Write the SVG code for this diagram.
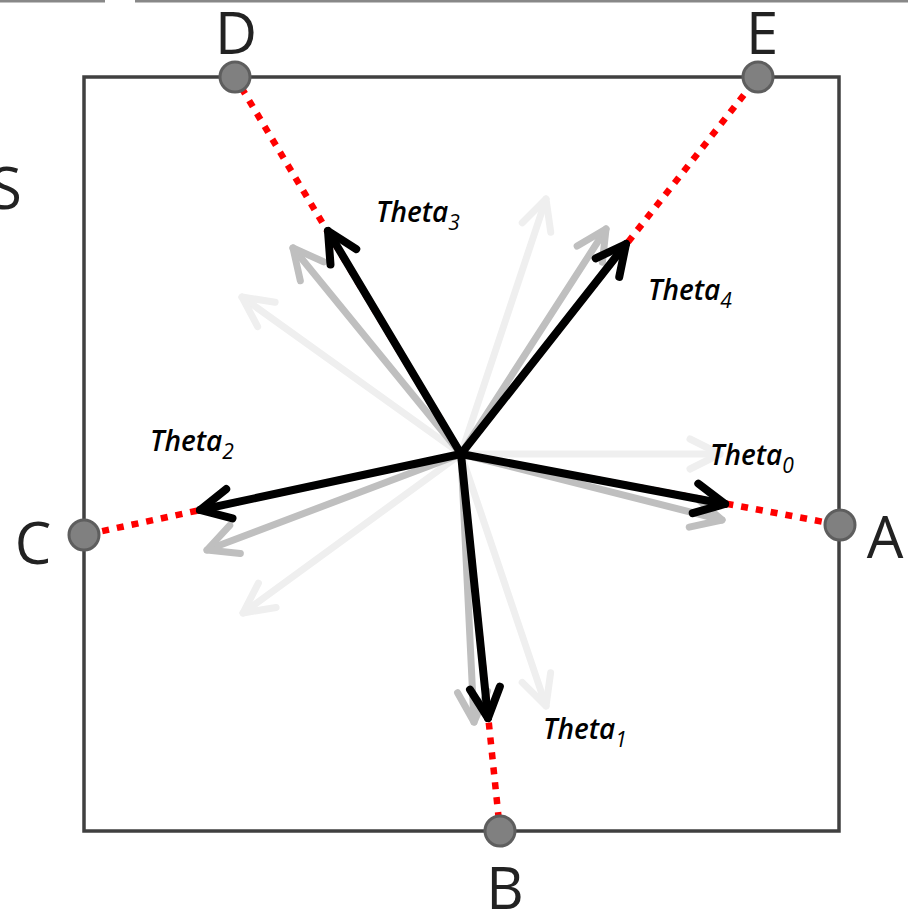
<svg xmlns="http://www.w3.org/2000/svg" width="908" height="912" viewBox="0 0 908 912">
<style>
.big{font-family:"Open Sans","Noto Sans",sans-serif;font-size:58px;fill:#222;text-anchor:middle}
.th{font-family:"Open Sans","Noto Sans",sans-serif;font-style:italic;font-weight:600;font-size:28px;fill:#000}
.sub{font-size:21px;font-weight:500}
.blk{stroke:#000;stroke-width:8;fill:none;stroke-linecap:round;marker-end:url(#mb)}
.gry{stroke:#bfbfbf;stroke-width:7;fill:none;stroke-linecap:round;marker-end:url(#mg)}
.lgt{stroke:#efefef;stroke-width:7;fill:none;stroke-linecap:round;marker-end:url(#ml)}
.red{stroke:#ff0000;stroke-width:6.5;fill:none;stroke-dasharray:7 8}
.pt{fill:#808080;stroke:#5e5e5e;stroke-width:3}
</style>
<defs>
<marker id="mb" markerUnits="userSpaceOnUse" orient="auto" refX="0" refY="0" markerWidth="80" markerHeight="80" viewBox="-40 -40 80 80" overflow="visible"><path d="M-30,-15 L0,0 L-30,15" fill="none" stroke="#000" stroke-width="8" stroke-linecap="round" stroke-linejoin="round"/></marker>
<marker id="mg" markerUnits="userSpaceOnUse" orient="auto" refX="0" refY="0" markerWidth="80" markerHeight="80" viewBox="-40 -40 80 80" overflow="visible"><path d="M-30,-15 L0,0 L-30,15" fill="none" stroke="#bfbfbf" stroke-width="7" stroke-linecap="round" stroke-linejoin="round"/></marker>
<marker id="ml" markerUnits="userSpaceOnUse" orient="auto" refX="0" refY="0" markerWidth="80" markerHeight="80" viewBox="-40 -40 80 80" overflow="visible"><path d="M-30,-15 L0,0 L-30,15" fill="none" stroke="#efefef" stroke-width="7" stroke-linecap="round" stroke-linejoin="round"/></marker>
</defs>
<rect width="908" height="912" fill="#fff"/>
<g id="topline" stroke="#888" stroke-width="3">
<line x1="0" y1="1" x2="105" y2="1"/>
<line x1="135" y1="1" x2="908" y2="1"/>
</g>
<text class="big" x="6" y="209">S</text>
<rect id="square" x="84" y="77" width="755" height="754" fill="none" stroke="#404040" stroke-width="3.5"/>
<g id="connectors">
<g id="light">
<line class="lgt" x1="461" y1="454" x2="720" y2="454"/>
<line class="lgt" x1="461" y1="454" x2="546" y2="706"/>
<line class="lgt" x1="461" y1="454" x2="243" y2="613"/>
<line class="lgt" x1="461" y1="454" x2="242" y2="297"/>
<line class="lgt" x1="461" y1="454" x2="546" y2="199"/>
</g>
<g id="gray">
<line class="gry" x1="461" y1="454" x2="722" y2="520"/>
<line class="gry" x1="461" y1="454" x2="474" y2="722"/>
<line class="gry" x1="461" y1="454" x2="207" y2="550"/>
<line class="gry" x1="461" y1="454" x2="293" y2="248"/>
<line class="gry" x1="461" y1="454" x2="606" y2="229"/>
</g>
<g id="dotted">
<line class="red" x1="461" y1="454" x2="840" y2="525"/>
<line class="red" x1="461" y1="454" x2="500" y2="831"/>
<line class="red" x1="461" y1="454" x2="84" y2="535"/>
<line class="red" x1="461" y1="454" x2="235" y2="77"/>
<line class="red" x1="461" y1="454" x2="758" y2="77"/>
</g>
<g id="black">
<line class="blk" x1="461" y1="454" x2="725" y2="504"/>
<line class="blk" x1="461" y1="454" x2="488" y2="718"/>
<line class="blk" x1="461" y1="454" x2="200" y2="510"/>
<line class="blk" x1="461" y1="454" x2="328" y2="231"/>
<line class="blk" x1="461" y1="454" x2="626" y2="244"/>
</g>
</g>
<g id="A"><circle class="pt" cx="840" cy="525" r="15"/><text class="big" x="885" y="558">A</text></g>
<g id="B"><circle class="pt" cx="500" cy="831" r="15"/><text class="big" x="505" y="909">B</text></g>
<g id="C"><circle class="pt" cx="84" cy="535" r="15"/><text class="big" x="33" y="564">C</text></g>
<g id="D"><circle class="pt" cx="235" cy="77" r="15"/><text class="big" x="236" y="54">D</text></g>
<g id="E"><circle class="pt" cx="758" cy="77" r="15"/><text class="big" x="762" y="54">E</text></g>
<g id="labels">
<text class="th" x="710" y="465">Theta<tspan class="sub" dy="8">0</tspan></text>
<text class="th" x="543" y="739">Theta<tspan class="sub" dy="8">1</tspan></text>
<text class="th" x="150" y="451">Theta<tspan class="sub" dy="8">2</tspan></text>
<text class="th" x="376" y="222">Theta<tspan class="sub" dy="8">3</tspan></text>
<text class="th" x="648" y="300">Theta<tspan class="sub" dy="8">4</tspan></text>
</g>
</svg>
